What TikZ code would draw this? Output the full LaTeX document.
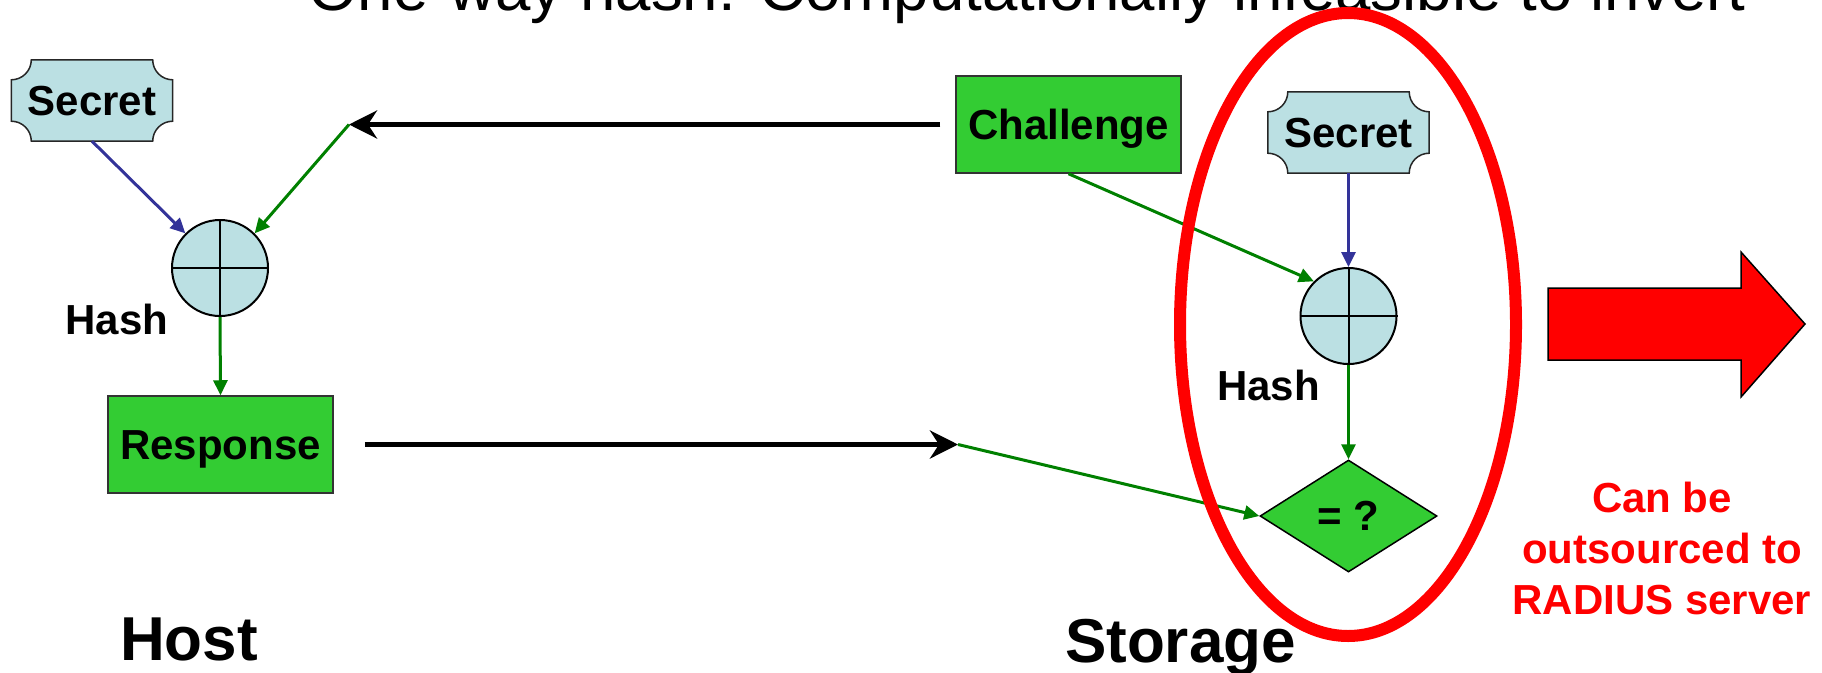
\documentclass[tikz,border=0pt]{standalone}
\usepackage{fontspec}
\setmainfont{Liberation Sans}
\usetikzlibrary{arrows.meta,shapes.geometric,backgrounds}
\definecolor{boxgreen}{HTML}{33CC33}
\definecolor{secblue}{HTML}{BBE0E3}
\definecolor{lineblue}{HTML}{333399}
\definecolor{linegreen}{HTML}{008000}
\definecolor{alarm}{HTML}{FF0000}
\tikzset{
 lbl/.style={font=\bfseries\fontsize{42}{51}\selectfont},
 biglbl/.style={font=\bfseries\fontsize{62}{70}\selectfont},
 greenbox/.style={lbl, draw=black!80, line width=1.5pt, fill=boxgreen, minimum width=225pt, minimum height=97pt, inner sep=0pt, text height=30pt, text depth=0pt},
 secretnode/.style={lbl, minimum width=161pt, minimum height=81pt, inner sep=0pt, text height=30pt, text depth=0pt},
 plaque/.style={draw=black!85, line width=1.5pt, fill=secblue},
 hashnode/.style={circle, draw=black, line width=2pt, fill=secblue, minimum size=96pt, inner sep=0pt},
 crossline/.style={draw=black, line width=2pt},
 cmpnode/.style={diamond, draw=black, line width=1.5pt, fill=boxgreen, minimum width=177pt, minimum height=112pt, inner sep=0pt, aspect=1.58, lbl},
 bluearrow/.style={draw=lineblue, line width=3pt, -{Triangle[length=15pt,width=14pt]}},
 greenarrow/.style={draw=linegreen, line width=3pt, -{Triangle[length=15pt,width=14pt]}},
 msgarrow/.style={draw=black, line width=5pt, -{Stealth[length=28pt,width=28pt,inset=9pt]}},
 ring/.style={draw=alarm, line width=12pt},
 bigarrow/.style={draw=black, line width=1.5pt, fill=alarm},
}
\newcommand\plaqueshape[1]{%
\path[plaque] ([xshift=20pt]#1.north west) -- ([xshift=-20pt]#1.north east)
  arc[start angle=180,end angle=90,radius=20]
  -- ([yshift=20pt]#1.south east)
  arc[start angle=270,end angle=180,radius=20]
  -- ([xshift=20pt]#1.south west)
  arc[start angle=360,end angle=270,radius=20]
  -- ([yshift=-20pt]#1.north west)
  arc[start angle=90,end angle=0,radius=20]
  -- cycle;}
\begin{document}
\begin{tikzpicture}[x=1pt,y=-1pt]
\useasboundingbox (0,0) rectangle (1822,672);
\clip (0,0) rectangle (1822,672);

\node[anchor=base west, inner sep=0pt, font=\fontsize{63.6}{70}\selectfont] (title) at (308,10) {One-way hash: Computationally infeasible to invert};

% nodes
\node[secretnode] (sec1) at (92,100.5) {Secret};
\node[hashnode] (h1) at (220,268) {};
\node[greenbox] (resp) at (220.5,444.5) {Response};
\node[greenbox] (chal) at (1068.5,124.5) {Challenge};
\node[secretnode] (sec2) at (1348.5,132.5) {Secret};
\node[hashnode] (h2) at (1348.5,316) {};
\node[cmpnode] (cmp) at (1348.5,516) {= ?};

\begin{scope}[on background layer]
\plaqueshape{sec1}
\plaqueshape{sec2}
\end{scope}

\draw[crossline] (h1.north) -- (h1.south) (h1.west) -- (h1.east);
\draw[crossline] (h2.north) -- (h2.south) (h2.west) -- (h2.east);

\coordinate (p1) at (349,124.5);
\coordinate (p2) at (958,444.5);

% connectors
\draw[msgarrow, shorten <=15pt] (chal.west) -- (p1);
\draw[msgarrow, shorten <=31pt] (resp.east) -- (p2);
\draw[bluearrow] (sec1.south) -- (h1.north west);
\draw[greenarrow] (p1) -- (h1.north east);
\draw[greenarrow] (h1.south) -- (resp.north);
\draw[bluearrow] (sec2.south) -- (h2.north);
\draw[greenarrow] (chal.south) -- (h2.north west);
\draw[greenarrow] (h2.south) -- (cmp.north);
\draw[greenarrow] (p2) -- (cmp.west);

% ellipse and big arrow
\draw[ring] (1348,324.5) ellipse [x radius=168, y radius=311.5];
\draw[bigarrow] (1548,288) -- (1741,288) -- (1741,252) -- (1805,324) -- (1741,397) -- (1741,360) -- (1548,360) -- cycle;

% labels
\node[lbl, anchor=base, inner sep=0pt] (hash1) at (117,334) {Hash};
\node[lbl, anchor=base, inner sep=0pt] (hash2) at (1268.5,400) {Hash};
\node[biglbl, anchor=base, inner sep=0pt] (host) at (189,660) {Host};
\node[biglbl, anchor=base, inner sep=0pt] (storage) at (1180.5,662) {Storage};
\node[lbl, text=alarm, align=center, inner sep=0pt] (note) at (1662,548) {Can be\\outsourced to\\RADIUS server};
\end{tikzpicture}
\end{document}
